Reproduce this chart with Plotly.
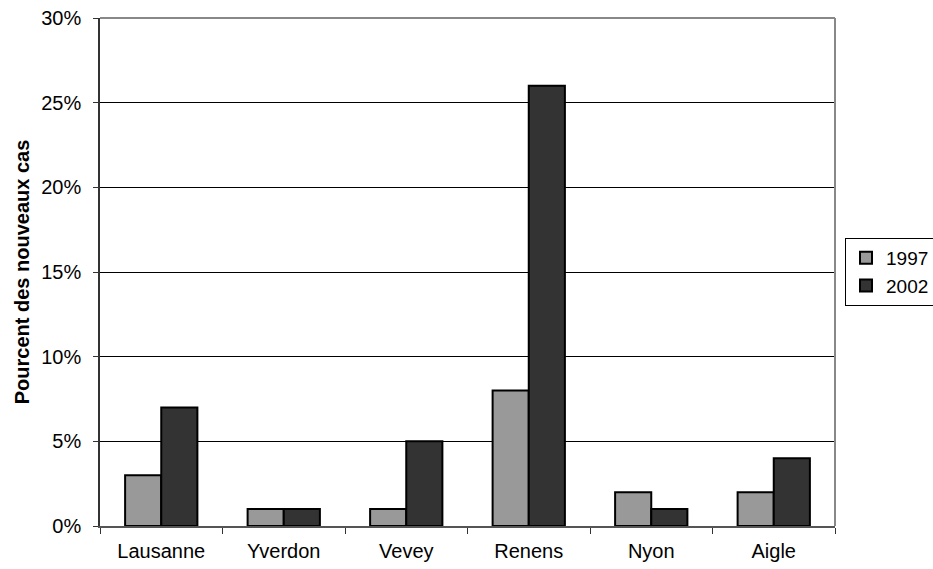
import plotly.graph_objects as go

categories = ["Lausanne", "Yverdon", "Vevey", "Renens", "Nyon", "Aigle"]
values_1997 = [3, 1, 1, 8, 2, 2]
values_2002 = [7, 1, 5, 26, 1, 4]
series_names = ["1997", "2002"]
y_ticks = [0, 5, 10, 15, 20, 25, 30]
y_tick_labels = [f"{v}%" for v in y_ticks]

FONT = "Liberation Sans, Arial, sans-serif"

fig = go.Figure()
fig.add_trace(go.Bar(
    x=categories, y=values_1997, name=series_names[0],
    marker=dict(color="#999999", line=dict(color="black", width=2)),
))
fig.add_trace(go.Bar(
    x=categories, y=values_2002, name=series_names[1],
    marker=dict(color="#333333", line=dict(color="black", width=2)),
))

fig.update_layout(
    width=933, height=569,
    margin=dict(l=100, r=98, t=18, b=43),
    paper_bgcolor="white", plot_bgcolor="white",
    barmode="group", bargap=0.41, bargroupgap=0,
    font=dict(family=FONT, size=20, color="black"),
    legend=dict(
        xref="container", yref="container",
        x=845 / 933, xanchor="left", y=1 - 272 / 569, yanchor="middle",
        bordercolor="black", borderwidth=1,
        font=dict(family=FONT, size=19, color="black"),
        itemwidth=30, tracegroupgap=0,
    ),
    xaxis=dict(
        showline=True, linecolor="#555555", linewidth=1.5,
        ticks="outside", tickson="boundaries", ticklen=6, tickcolor="#333333",
        showgrid=False, tickfont=dict(size=20), ticklabelstandoff=6,
        automargin=False,
    ),
    yaxis=dict(
        range=[0, 30], tickvals=y_ticks, ticktext=y_tick_labels,
        showline=True, linecolor="#333333", linewidth=1.5,
        ticks="outside", ticklen=5, tickcolor="#333333",
        showgrid=True, gridcolor="black", gridwidth=1,
        zeroline=False, tickfont=dict(size=20), ticklabelstandoff=8,
        title=dict(text="<b>Pourcent des nouveaux cas</b>", font=dict(size=20), standoff=6),
        automargin=False,
    ),
    shapes=[
        dict(type="line", xref="paper", yref="paper", x0=0, x1=1, y0=1, y1=1,
             line=dict(color="#888888", width=2), layer="above"),
        dict(type="line", xref="paper", yref="paper", x0=1, x1=1, y0=0, y1=1,
             line=dict(color="#888888", width=2), layer="above"),
    ],
)

fig.write_html("out.html", config={"displayModeBar": False},
               post_script="document.body.style.margin='0';")
